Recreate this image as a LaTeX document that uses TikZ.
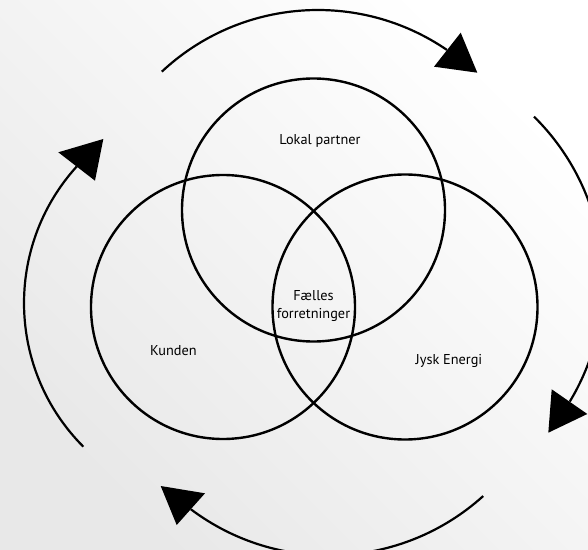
\documentclass[tikz,border=0pt]{standalone}
\usepackage{fontspec}
\setmainfont{PT Sans}
\begin{document}
\begin{tikzpicture}[x=1pt,y=1pt,
  ring/.style={circle, draw=black, line width=2.4pt, minimum size=264pt, inner sep=0pt},
  lbl/.style={font=\fontsize{14.3}{17}\selectfont, anchor=base, inner sep=0pt},
  flow/.style={draw=black, line width=2.2pt},
  head/.style={fill=black, draw=none}]
\useasboundingbox (0,0) rectangle (588,549);
\clip (0,0) rectangle (588,549);
\shade[bottom color=black!9, top color=white, shading angle=-45] (0,0) rectangle (588,549);

% circles
\node[ring, minimum size=263pt] (lokal) at (313.5,339) {};
\node[ring] (kunde) at (223,242) {};
\node[ring, minimum size=265pt] (jysk) at (405,242) {};

% labels
\node[lbl] (tLokal) at (320,404) {Lokal partner};
\node[lbl] (tF1) at (313.5,248.3) {Fælles};
\node[lbl] (tF2) at (313.5,230.7) {forretninger};
\node[lbl] (tKunden) at (173.4,193.6) {Kunden};
\node[lbl] (tJysk) at (449,185) {Jysk Energi};

% arc centres
\coordinate (cTop) at (317.9,310.6);
\coordinate (cRight) at (371.1,267.2);
\coordinate (cBottom) at (329,223.6);
\coordinate (cLeft) at (227.4,245.9);

% circular arrows
\draw[flow] (cTop) ++(133.1:228.4) arc[start angle=133.1, end angle=55.6, radius=228.4];
\draw[flow] (cRight) ++(45.4:232) arc[start angle=45.4, end angle=-31.1, radius=232];
\draw[flow] (cBottom) ++(-47.9:230) arc[start angle=-47.9, end angle=-126.9, radius=230];
\draw[flow] (cLeft) ++(224.9:203.4) arc[start angle=224.9, end angle=137.8, radius=203.4];

% arrow heads
\coordinate (hTa) at (460.7,516.3); \coordinate (hTb) at (434,482.3); \coordinate (hTc) at (477.3,476.3);
\coordinate (hRa) at (551.7,159.7); \coordinate (hRb) at (587.3,135); \coordinate (hRc) at (548.3,116.3);
\coordinate (hBa) at (160.7,63); \coordinate (hBb) at (205,55.7); \coordinate (hBc) at (176.7,24);
\coordinate (hLa) at (58.3,396.7); \coordinate (hLb) at (103.3,410); \coordinate (hLc) at (95,368.3);
\fill[head] (hTa) -- (hTb) -- (hTc) -- cycle;
\fill[head] (hRa) -- (hRb) -- (hRc) -- cycle;
\fill[head] (hBa) -- (hBb) -- (hBc) -- cycle;
\fill[head] (hLa) -- (hLb) -- (hLc) -- cycle;
\end{tikzpicture}
\end{document}
